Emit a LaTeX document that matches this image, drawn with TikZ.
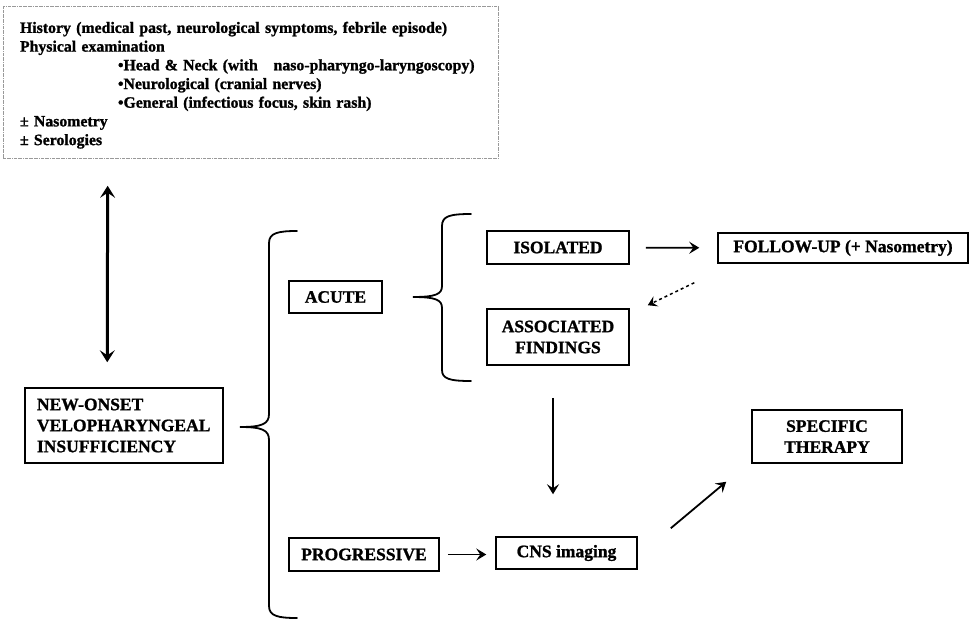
\documentclass[tikz,border=0pt]{standalone}
\usepackage{fontspec}
\setmainfont{Liberation Serif}[BoldFeatures={FakeBold=1.2}]
\usetikzlibrary{arrows.meta,positioning,calc}

\begin{document}
\begin{tikzpicture}[
    x=1pt, y=-1pt,
    font=\bfseries\fontsize{17.5}{21}\selectfont,
    box/.style={rectangle, draw, line width=1.5pt, inner sep=2pt, align=center},
    notes/.style={rectangle, draw=gray!80, densely dashdotted, line width=0.7pt, align=left, inner xsep=17pt, text width=461pt, minimum height=147pt, font=\bfseries\fontsize{15.8}{18.7}\selectfont},
    arrow/.style={-{Stealth[length=10pt,width=12pt,inset=4pt]}, line width=1.8pt},
    dasharrow/.style={-{Stealth[length=9pt,width=11pt,inset=3.5pt]}, line width=1.5pt, dashed},
    bigarrow/.style={{Stealth[length=12pt,width=15pt,inset=5pt]}-{Stealth[length=12pt,width=15pt,inset=5pt]}, line width=3pt},
    brace/.style={line width=1.8pt, line cap=round}
]
\useasboundingbox (0,0) rectangle (971,621);

% Work-up notes
\node[notes] (history) at (250.5,82.5) {\rule{0pt}{23pt}History (medical past, neurological symptoms, febrile episode)\\
Physical examination\\
\mbox{\hspace*{98pt}•Head \& Neck (with\hspace{1em}naso-pharyngo-laryngoscopy)}\\
\hspace*{98pt}•Neurological (cranial nerves)\\
\hspace*{98pt}•General (infectious focus, skin rash)\\
± Nasometry\\
± Serologies\rule[-10pt]{0pt}{0pt}};

% Boxes
\node[box, align=left, text width=174pt, inner xsep=12pt, minimum height=75pt] (onset) at (124,425.5) {NEW-ONSET\\VELOPHARYNGEAL\\INSUFFICIENCY};
\node[box, minimum width=93pt, minimum height=32pt] (acute) at (335.5,297) {ACUTE};
\node[box, minimum width=150pt, minimum height=33pt] (progressive) at (364,554.5) {PROGRESSIVE};
\node[box, minimum width=142pt, minimum height=33pt] (isolated) at (558,247.5) {ISOLATED};
\node[box, minimum width=142pt, minimum height=56pt] (assoc) at (558,337) {ASSOCIATED\\FINDINGS};
\node[box, minimum width=250pt, minimum height=30pt] (followup) at (843,248) {FOLLOW-UP (+ Nasometry)};
\node[box, minimum width=141pt, minimum height=32pt] (cns) at (566.5,553) {CNS imaging};
\node[box, minimum width=150pt, minimum height=53pt] (therapy) at (827,436.5) {SPECIFIC\\THERAPY};

% Braces
\draw[brace] (297,231) .. controls (278,231) and (269,233) .. (269,243) -- (269,414)
    .. controls (269,424) and (262,427) .. (240,427)
    .. controls (262,427) and (269,430) .. (269,440) -- (269,606)
    .. controls (269,616) and (278,618) .. (297,618);
\draw[brace] (471,214) .. controls (450,214) and (442,216) .. (442,226) -- (442,286)
    .. controls (442,294) and (436,297) .. (413,297)
    .. controls (436,297) and (442,300) .. (442,308) -- (442,370)
    .. controls (442,379) and (450,381) .. (471,381);

% Arrows
\draw[bigarrow] ($(history.south west)+(105,27)$) -- ($(onset.north west)+(83,-25)$);
\draw[arrow, shorten <=16pt, shorten >=18pt] (isolated) -- (followup);
\draw[dasharrow] ($(followup.south west)+(-23,19)$) -- ($(assoc.north east)+(18,-3)$);
\draw[arrow] ($(assoc.south)+(-5,32)$) -- ($(cns.north)+(-13.5,-42)$);
\draw[arrow, shorten <=8pt, shorten >=9pt] (progressive.east) -- (progressive.east -| cns.west);
\draw[arrow] ($(cns.north east)+(33,-8)$) -- ($(therapy.south west)+(-25,18)$);

\end{tikzpicture}
\end{document}
